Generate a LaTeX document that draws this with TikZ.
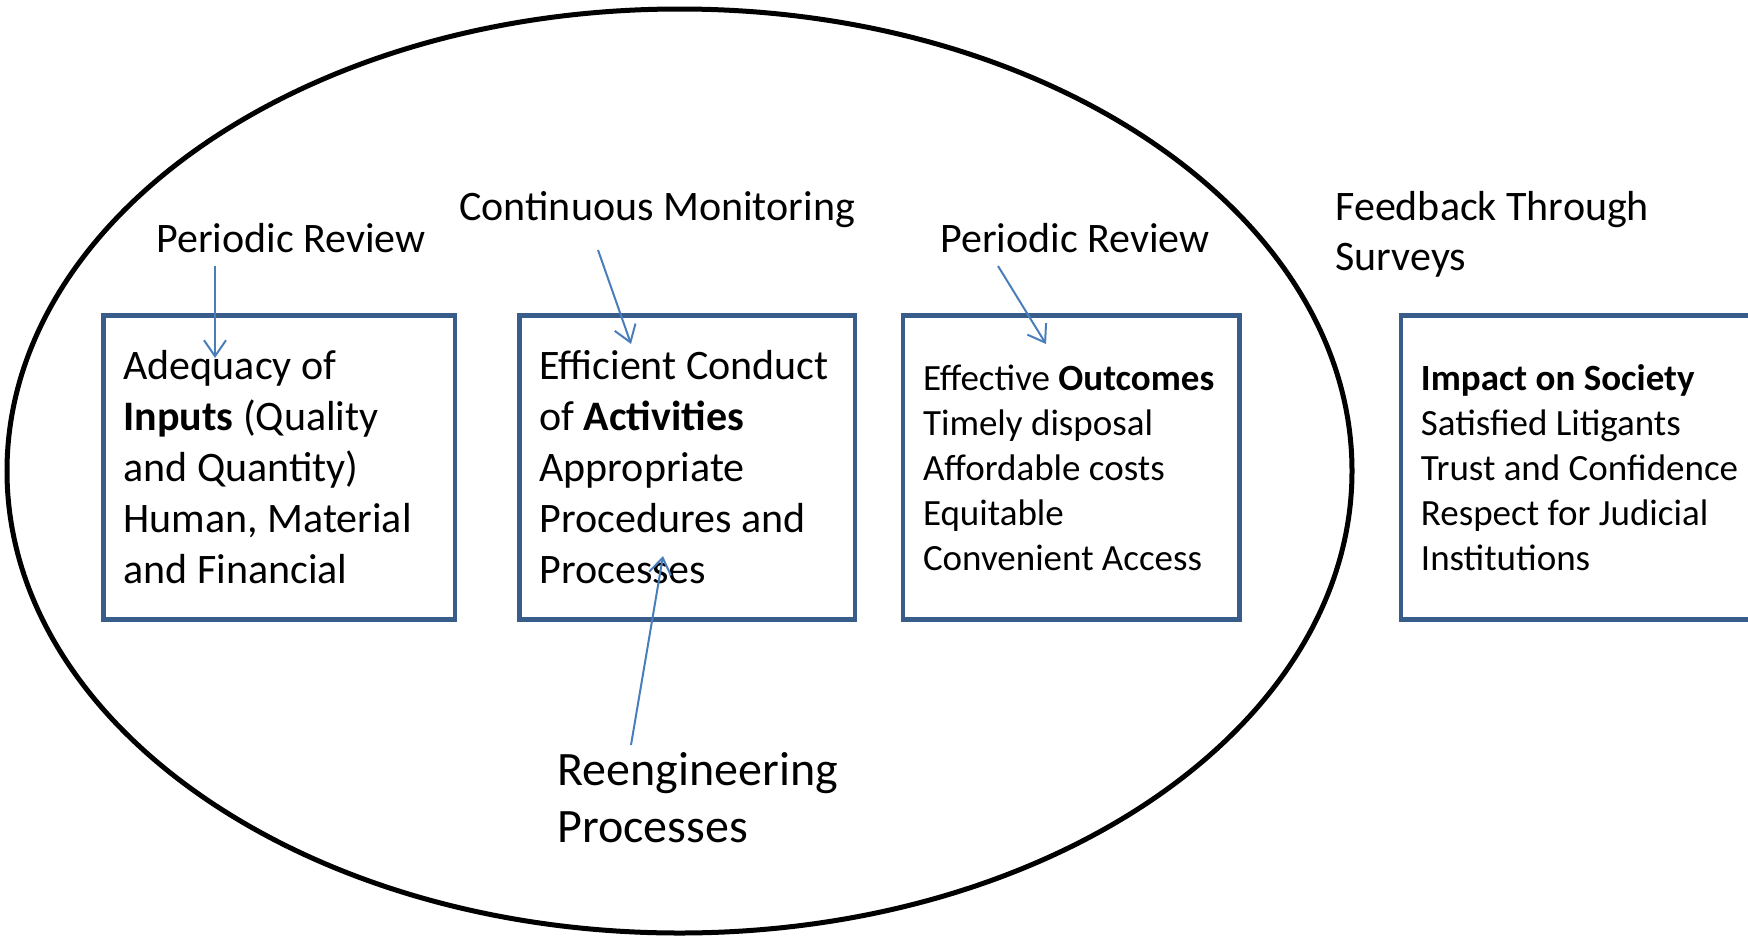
\documentclass[tikz,border=0pt]{standalone}
\usepackage{fontspec}
\setmainfont{Carlito}
\usepackage{tikz}
\usetikzlibrary{arrows.meta}

\definecolor{boxblue}{RGB}{56,93,138}
\definecolor{arrowblue}{RGB}{74,126,187}

\tikzset{
	stage/.style={draw=boxblue, line width=2.4pt, inner xsep=10pt, inner ysep=0pt, minimum height=151.75pt, align=flush left},
	bigtext/.style={font=\fontsize{21}{25.5}\selectfont},
	smalltext/.style={font=\fontsize{18.5}{22.5}\selectfont},
	remark/.style={anchor=base west, inner sep=0pt, align=left, font=\fontsize{21}{25}\selectfont},
	flow/.style={draw=arrowblue, line width=1pt, -{Straight Barb[length=8pt,width=11pt]}}
}

\begin{document}
\begin{tikzpicture}[x=0.5pt, y=-0.5pt]
	\useasboundingbox (0,0) rectangle (1748,937);
	\draw[line width=2.5pt] (679.5,471) ellipse [x radius=336.25pt, y radius=231pt];

	\node[stage, bigtext, text width=155.75pt] (inputs) at (279.25,467.5) {Adequacy of\\ \textbf{Inputs} (Quality\\ and Quantity)\\ Human, Material\\ and Financial};
	\node[stage, bigtext, text width=147.75pt] (activities) at (687.25,467.5) {Efficient~Conduct\\ of \textbf{Activities}\\ Appropriate\\ Procedures and\\ Processes};
	\node[stage, smalltext, text width=148.25pt] (outcomes) at (1071.25,467.5) {Effective~\textbf{Outcomes}\\ Timely disposal\\ Affordable costs\\ Equitable\\ Convenient Access};
	\node[stage, smalltext, text width=200pt, anchor=west] (impact) at (1398.5,467.5) {\textbf{Impact on Society}\\ Satisfied Litigants\\ Trust and Confidence\\ Respect for Judicial\\ Institutions};

	\node[remark] (rev1) at (156,252) {Periodic Review};
	\node[remark] (monitor) at (459,220) {Continuous Monitoring};
	\node[remark] (rev2) at (940,252) {Periodic Review};
	\node[remark] (survey) at (1335,270) {Feedback Through\\ Surveys};
	\node[remark, font=\fontsize{24}{28.5}\selectfont] (reeng) at (557,842) {Reengineering\\ Processes};

	\coordinate (tip1) at (215,358);
	\coordinate (tip2) at (631,344);
	\coordinate (tip3) at (1046,344);
	\coordinate (tip4) at (663,556);

	\draw[flow] ([shift={(59,14)}]rev1.base west) -- (tip1);
	\draw[flow] ([shift={(139,30)}]monitor.base west) -- (tip2);
	\draw[flow] ([shift={(58,14)}]rev2.base west) -- (tip3);
	\draw[flow] ([shift={(74,-97)}]reeng.base west) -- (tip4);
\end{tikzpicture}
\end{document}
